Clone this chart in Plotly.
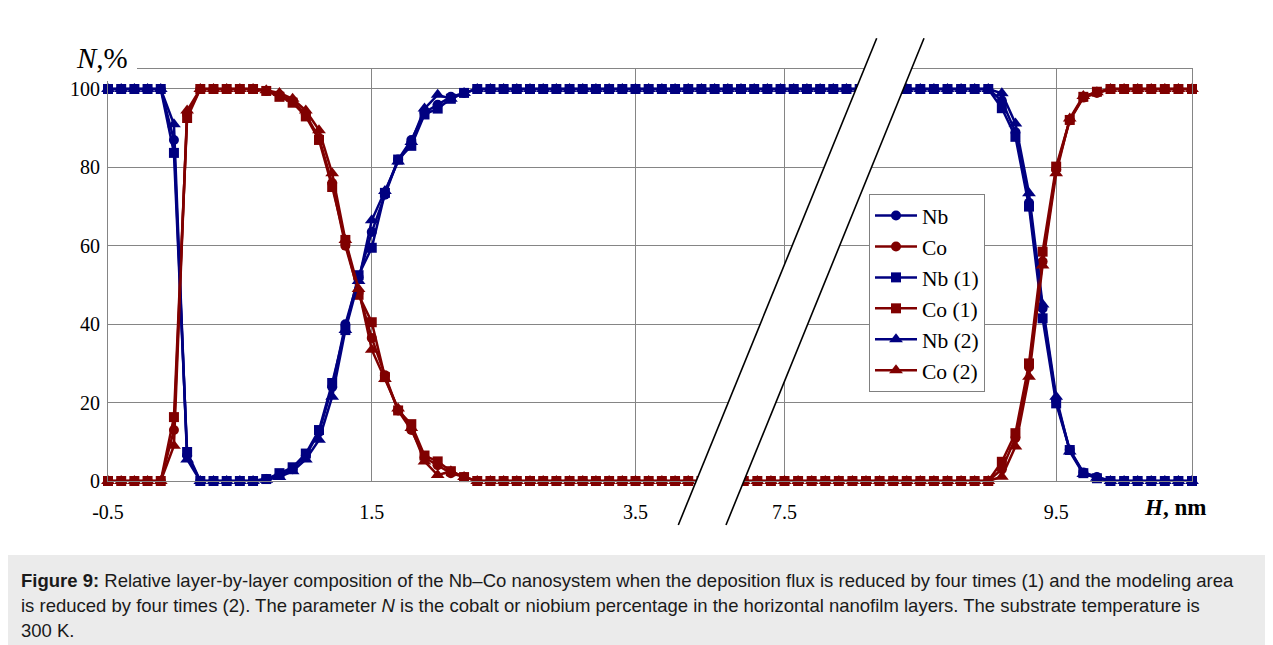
import plotly.graph_objects as go

# ---------------- data (H in nm, N in %) ----------------
H_LEFT = [-0.5, -0.4, -0.3, -0.2, -0.1, 0.0, 0.1, 0.2, 0.3, 0.4,
          0.5, 0.6, 0.7, 0.8, 0.9, 1.0, 1.1, 1.2, 1.3, 1.4,
          1.5, 1.6, 1.7, 1.8, 1.9, 2.0, 2.1, 2.2, 2.3, 2.4,
          2.5, 2.6, 2.7, 2.8, 2.9, 3.0, 3.1, 3.2, 3.3, 3.4,
          3.5, 3.6, 3.7, 3.8, 3.9, 4.0, 4.1, 4.2, 4.3, 4.4,
          4.5, 4.6, 4.7, 4.8, 4.9, 5.0, 5.1, 5.2, 5.3]
H_RIGHT = [7.0, 7.1, 7.2, 7.3, 7.4, 7.5, 7.6, 7.7, 7.8, 7.9,
           8.0, 8.1, 8.2, 8.3, 8.4, 8.5, 8.6, 8.7, 8.8, 8.9,
           9.0, 9.1, 9.2, 9.3, 9.4, 9.5, 9.6, 9.7, 9.8, 9.9,
           10.0, 10.1, 10.2, 10.3, 10.4, 10.5]

NB_LEFT = [100, 100, 100, 100, 100, 87, 6.5, 0, 0, 0, 0, 0, 0.5,
           1.5, 3, 6.5, 12.5, 24, 40, 52, 63.5, 73, 82, 87, 94, 96, 98, 99,
           100, 100, 100, 100, 100, 100, 100, 100, 100, 100,
           100, 100, 100, 100, 100, 100, 100, 100, 100, 100,
           100, 100, 100, 100, 100, 100, 100, 100, 100, 100, 100]
NB1_LEFT = [100, 100, 100, 100, 100, 83.7, 7.4, 0, 0, 0, 0, 0, 0.5,
            2, 3.5, 7, 13, 25, 38.5, 52.5, 59.5, 73.5, 82, 85.5, 93.5, 95, 97.5, 99,
            100, 100, 100, 100, 100, 100, 100, 100, 100, 100,
            100, 100, 100, 100, 100, 100, 100, 100, 100, 100,
            100, 100, 100, 100, 100, 100, 100, 100, 100, 100, 100]
NB2_LEFT = [100, 100, 100, 100, 100, 91, 5.5, 0, 0, 0, 0, 0, 0.3,
            1, 2.5, 5.5, 10.5, 21.5, 38.5, 51, 66.5, 74, 81.5, 86.5, 95, 98.5, 97.5, 99,
            100, 100, 100, 100, 100, 100, 100, 100, 100, 100,
            100, 100, 100, 100, 100, 100, 100, 100, 100, 100,
            100, 100, 100, 100, 100, 100, 100, 100, 100, 100, 100]

CO_LEFT = [0, 0, 0, 0, 0, 13, 93.5, 100, 100, 100, 100, 100, 99.5,
           98.5, 97, 93.5, 87.5, 76, 60, 48, 36.5, 27, 18, 13, 6, 4, 2, 1,
           0, 0, 0, 0, 0, 0, 0, 0, 0, 0, 0, 0, 0, 0, 0, 0, 0, 0, 0]
CO1_LEFT = [0, 0, 0, 0, 0, 16.3, 92.6, 100, 100, 100, 100, 100, 99.5,
            98, 96.5, 93, 87, 75, 61.5, 47.5, 40.5, 26.5, 18, 14.5, 6.5, 5, 2.5, 1,
            0, 0, 0, 0, 0, 0, 0, 0, 0, 0, 0, 0, 0, 0, 0, 0, 0, 0, 0]
CO2_LEFT = [0, 0, 0, 0, 0, 9, 94.5, 100, 100, 100, 100, 100, 99.7,
            99, 97.5, 94.5, 89.5, 78.5, 61.5, 49, 33.5, 26, 18.5, 13.5, 5, 1.5, 2.5, 1,
            0, 0, 0, 0, 0, 0, 0, 0, 0, 0, 0, 0, 0, 0, 0, 0, 0, 0, 0]

NB_RIGHT = [100, 100, 100, 100, 100, 100, 100, 100, 100,
            97, 89, 71, 44, 20.5, 8, 2.2, 1,
            0, 0, 0, 0, 0, 0, 0]
NB1_RIGHT = [100, 100, 100, 100, 100, 100, 100, 100, 100,
             95.1, 87.8, 70, 41.5, 19.8, 7.9, 2, 0.7,
             0, 0, 0, 0, 0, 0, 0]
NB2_RIGHT = [100, 100, 100, 100, 100, 100, 100, 100, 100,
             98.9, 91.2, 73.4, 45, 21.5, 7.5, 1.8, 0.8,
             0, 0, 0, 0, 0, 0, 0]

CO_RIGHT = [0, 0, 0, 0, 0, 0, 0, 0, 0, 0, 0, 0, 0, 0, 0, 0, 0, 0, 0, 0, 0,
            3, 11, 29, 56, 79.5, 92, 97.8, 99,
            100, 100, 100, 100, 100, 100, 100]
CO1_RIGHT = [0, 0, 0, 0, 0, 0, 0, 0, 0, 0, 0, 0, 0, 0, 0, 0, 0, 0, 0, 0, 0,
             4.9, 12.2, 30, 58.5, 80.2, 92.1, 98, 99.3,
             100, 100, 100, 100, 100, 100, 100]
CO2_RIGHT = [0, 0, 0, 0, 0, 0, 0, 0, 0, 0, 0, 0, 0, 0, 0, 0, 0, 0, 0, 0, 0,
             1.1, 8.8, 26.6, 55, 78.5, 92.5, 98.2, 99.2,
             100, 100, 100, 100, 100, 100, 100]

SERIES_NAMES = ["Nb", "Co", "Nb (1)", "Co (1)", "Nb (2)", "Co (2)"]
X_TICK_H = [-0.5, 1.5, 3.5, 7.5, 9.5]
X_TICK_TEXT = ["-0.5", "1.5", "3.5", "7.5", "9.5"]
Y_TICKS = [0, 20, 40, 60, 80, 100]

CAPTION = [
    "<b>Figure 9:</b> Relative layer-by-layer composition of the Nb\u2013Co nanosystem when the deposition flux is reduced by four times (1) and the modeling area",
    "is reduced by four times (2). The parameter <i>N</i> is the cobalt or niobium percentage in the horizontal nanofilm layers. The substrate temperature is",
    "300 K.",
]

# ---------------- broken axis mapping ----------------
BREAK_H = 6.0
RIGHT_H0, RIGHT_POS0, RIGHT_STRETCH = 7.5, 4.63, 1.03


def pos(h):
    return h if h < BREAK_H else RIGHT_POS0 + (h - RIGHT_H0) * RIGHT_STRETCH


# page places the figure 8 px in from the top-left corner
OFF = 8
W, HGT = 1273, 645
PLOT_L, PLOT_R, PLOT_T, PLOT_B = 108, 1192, 69, 481   # page pixels
ML, MT = PLOT_L - OFF, PLOT_T - OFF
MR, MB = W - (PLOT_R - OFF), HGT - (PLOT_B - OFF)
PW, PH = PLOT_R - PLOT_L, PLOT_B - PLOT_T


def px(x):
    return (x - PLOT_L) / PW


def py(y):
    return (PLOT_B - y) / PH


NAVY, MAROON = "#000080", "#800000"
GRID = "#858585"
SERIF = "Liberation Serif, Times New Roman, serif"
SANS = "Liberation Sans, Arial, Helvetica, sans-serif"

series = [
    (SERIES_NAMES[0], NB_LEFT, NB_RIGHT, NAVY, "circle", 10),
    (SERIES_NAMES[1], CO_LEFT, CO_RIGHT, MAROON, "circle", 10),
    (SERIES_NAMES[2], NB1_LEFT, NB1_RIGHT, NAVY, "square", 10),
    (SERIES_NAMES[3], CO1_LEFT, CO1_RIGHT, MAROON, "square", 10),
    (SERIES_NAMES[4], NB2_LEFT, NB2_RIGHT, NAVY, "triangle-up", 12),
    (SERIES_NAMES[5], CO2_LEFT, CO2_RIGHT, MAROON, "triangle-up", 12),
]

fig = go.Figure()
for name, vl, vr, color, sym, size in series:
    hl = H_LEFT[:len(vl)]
    hr = H_RIGHT[len(H_RIGHT) - len(vr):]
    xs = [pos(h) for h in hl] + [pos(h) for h in hr]
    ys = list(vl) + list(vr)
    fig.add_trace(go.Scatter(
        x=xs, y=ys, name=name, mode="lines+markers",
        line=dict(color=color, width=2.5),
        marker=dict(symbol=sym, size=size, color=color, line=dict(width=0)),
        cliponaxis=False,
    ))

shapes = [
    # white break band
    dict(type="path", xref="paper", yref="paper", layer="above",
         path=(f"M {px(876.7)},{py(38.3)} L {px(924)},{py(38.3)} "
               f"L {px(726)},{py(525)} L {px(678.3)},{py(525)} Z"),
         fillcolor="white", line=dict(width=0)),
    dict(type="line", xref="paper", yref="paper", layer="above",
         x0=px(876.7), y0=py(38.3), x1=px(678.3), y1=py(525),
         line=dict(color="black", width=1.6)),
    dict(type="line", xref="paper", yref="paper", layer="above",
         x0=px(924), y0=py(38.3), x1=px(726), y1=py(525),
         line=dict(color="black", width=1.6)),
    # white patch behind the N,% label
    dict(type="rect", xref="paper", yref="paper", layer="above",
         x0=px(40), y0=py(30), x1=px(137), y1=py(81),
         fillcolor="white", line=dict(width=0)),
    # caption box
    dict(type="rect", xref="paper", yref="paper", layer="below",
         x0=px(3), y0=py(555), x1=px(1270), y1=py(660),
         fillcolor="#ebebeb", line=dict(width=0)),
    # outer frame
    dict(type="rect", xref="paper", yref="paper", layer="below",
         x0=px(2.5), y0=py(6.5), x1=px(1270.5), y1=py(660),
         fillcolor="rgba(0,0,0,0)", line=dict(color="#d0d0d0", width=1)),
]

annotations = [
    dict(xref="paper", yref="paper", x=px(74), y=py(58), xanchor="left", yanchor="middle",
         text="<i>N</i>,%", showarrow=False,
         font=dict(family=SERIF, size=29, color="black")),
    dict(xref="paper", yref="paper", x=px(1142), y=py(507), xanchor="left", yanchor="middle",
         text="<b><i>H</i></b><b>, nm</b>", showarrow=False,
         font=dict(family=SERIF, size=23, color="black")),
]
for i, line in enumerate(CAPTION):
    annotations.append(dict(
        xref="paper", yref="paper", x=px(19), y=py(580 + 25 * i),
        xanchor="left", yanchor="middle", text=line, showarrow=False,
        font=dict(family=SANS, size=18.5, color="#1a1a1a")))

fig.update_layout(
    width=W, height=HGT,
    margin=dict(l=ML, r=MR, t=MT, b=MB),
    paper_bgcolor="white", plot_bgcolor="white",
    showlegend=True,
    legend=dict(x=px(869), y=py(194), xanchor="left", yanchor="top",
                bgcolor="white", bordercolor="#808080", borderwidth=1,
                font=dict(family=SERIF, size=21.5, color="black"),
                itemwidth=42, tracegroupgap=0),
    shapes=shapes,
    annotations=annotations,
    xaxis=dict(range=[pos(-0.5), pos(10.5)],
               tickvals=[pos(h) for h in X_TICK_H], ticktext=X_TICK_TEXT,
               showgrid=True, gridcolor=GRID, gridwidth=1,
               showline=True, linecolor=GRID, linewidth=1, mirror=True,
               ticks="outside", ticklen=13, tickcolor="rgba(0,0,0,0)",
               zeroline=False,
               tickfont=dict(family=SERIF, size=20, color="black")),
    yaxis=dict(range=[0, 105.1], tickvals=Y_TICKS,
               ticktext=[str(v) for v in Y_TICKS],
               showgrid=True, gridcolor=GRID, gridwidth=1,
               showline=True, linecolor=GRID, linewidth=1, mirror=True,
               ticks="outside", ticklen=3, tickcolor="rgba(0,0,0,0)",
               zeroline=False,
               tickfont=dict(family=SERIF, size=20, color="black")),
)

fig.write_html("out.html")
